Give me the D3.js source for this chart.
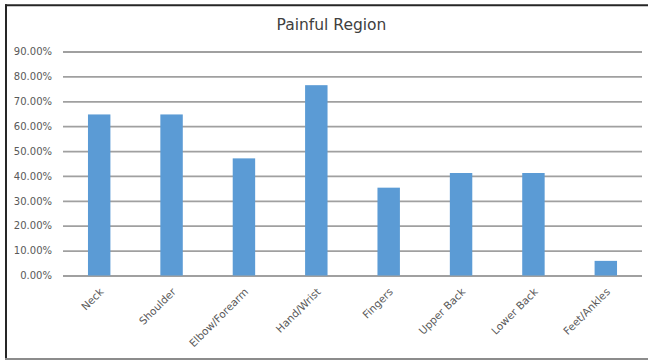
<!DOCTYPE html>
<html>
<head>
<meta charset="utf-8">
<script src="https://cdn.jsdelivr.net/npm/d3@7"></script>
<style>
  html, body { margin: 0; padding: 0; background: #fff; }
  svg { display: block; }
</style>
</head>
<body>
<svg id="chart" width="648" height="360"></svg>
<script>
const categories = ["Neck", "Shoulder", "Elbow/Forearm", "Hand/Wrist", "Fingers", "Upper Back", "Lower Back", "Feet/Ankles"];
const values = [64.71, 64.71, 47.06, 76.47, 35.29, 41.18, 41.18, 5.88];
const yTicks = [0, 10, 20, 30, 40, 50, 60, 70, 80, 90];
const title = "Painful Region";

const svg = d3.select("#chart");
const W = 648, H = 360;
const margin = { left: 63, right: 6, top: 51.5, bottom: 84.5 };

// frame
svg.append("rect").attr("x", 0).attr("y", 0).attr("width", W).attr("height", H).attr("fill", "#fff");
svg.append("line").attr("x1", 5).attr("x2", W).attr("y1", 5.3).attr("y2", 5.3)
  .attr("stroke", "#262626").attr("stroke-width", 2);
svg.append("line").attr("x1", 6).attr("x2", 6).attr("y1", 4.3).attr("y2", H)
  .attr("stroke", "#262626").attr("stroke-width", 2);
svg.append("line").attr("x1", 5).attr("x2", W).attr("y1", 359).attr("y2", 359)
  .attr("stroke", "#8c8c8c").attr("stroke-width", 2);

const x = d3.scaleBand()
  .domain(categories)
  .range([margin.left, W - margin.right])
  .paddingInner(0.69)
  .paddingOuter(0.345);

const y = d3.scaleLinear()
  .domain([0, 90])
  .range([H - margin.bottom, margin.top]);

// gridlines via axis
const grid = svg.append("g")
  .attr("transform", `translate(${margin.left},0)`)
  .call(d3.axisLeft(y).tickValues(yTicks).tickSize(-(W - margin.right - margin.left)).tickFormat(""));
grid.select(".domain").remove();
grid.selectAll(".tick line").attr("stroke", "#a0a0a0").attr("stroke-width", 1.8);

// y tick labels
const yAxis = svg.append("g")
  .attr("transform", `translate(${margin.left},0)`)
  .call(d3.axisLeft(y).tickValues(yTicks).tickSize(0).tickPadding(11)
    .tickFormat(d => d.toFixed(2) + "%"));
yAxis.select(".domain").remove();
yAxis.selectAll("text")
  .attr("fill", "#595959")
  .style("font-family", "'DejaVu Sans', sans-serif")
  .style("font-size", "10px");

// bars
svg.append("g").selectAll("rect")
  .data(categories)
  .join("rect")
  .attr("x", d => x(d))
  .attr("width", x.bandwidth())
  .attr("y", (d, i) => y(values[i]))
  .attr("height", (d, i) => y(0) - y(values[i]))
  .attr("fill", "#5b9bd5");

// x axis labels
const xAxis = svg.append("g")
  .attr("transform", `translate(0,${y(0)})`)
  .call(d3.axisBottom(x).tickSize(0).tickPadding(0));
xAxis.select(".domain").remove();
xAxis.selectAll("text")
  .attr("fill", "#595959")
  .style("font-family", "'DejaVu Sans', sans-serif")
  .style("font-size", "10.5px")
  .attr("text-anchor", "end")
  .attr("dy", null)
  .attr("y", 0)
  .attr("transform", "translate(5,17) rotate(-45)");

// title
svg.append("text")
  .attr("x", 331.5)
  .attr("y", 30)
  .attr("text-anchor", "middle")
  .attr("fill", "#404040")
  .style("font-family", "'DejaVu Sans', sans-serif")
  .style("font-size", "15.5px")
  .text(title);
</script>
</body>
</html>
